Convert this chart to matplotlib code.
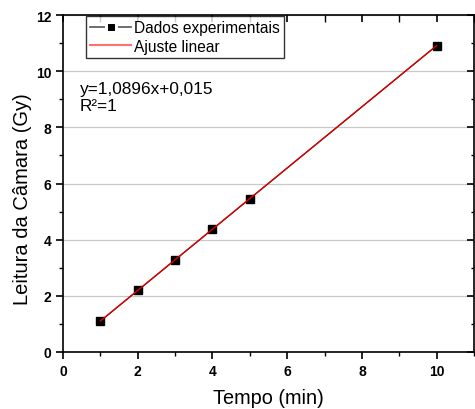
import matplotlib
matplotlib.use("Agg")
import matplotlib.pyplot as plt
from matplotlib.lines import Line2D
from matplotlib.ticker import MultipleLocator

plt.rcParams['font.family'] = ['Liberation Sans', 'DejaVu Sans']

tempo = [1, 2, 3, 4, 5, 10]
leitura = [1.10, 2.19, 3.28, 4.37, 5.46, 10.91]
slope = 1.0896
intercept = 0.015
fit_x = [1, 10]

fig = plt.figure(figsize=(4.75, 4.10), dpi=100)
ax = fig.add_axes([63/475, 1-353/410, 1-63/475 - 1/475, (353-16)/410])

ax.plot(tempo, leitura, color='black', lw=0.8, marker='s', ms=5.5,
        markerfacecolor='black', markeredgecolor='black', zorder=3)
fy = [slope*x + intercept for x in fit_x]
ax.plot(fit_x, fy, color='#dd0000', lw=1.0, zorder=4)

ax.set_xlim(0, 11)
ax.set_ylim(0, 12)
ax.xaxis.set_major_locator(MultipleLocator(2))
ax.xaxis.set_minor_locator(MultipleLocator(1))
ax.yaxis.set_major_locator(MultipleLocator(2))
ax.yaxis.set_minor_locator(MultipleLocator(1))
ax.grid(axis='y', which='major', color='#c8c8c8', lw=0.9)
ax.set_axisbelow(True)

for s in ax.spines.values():
    s.set_linewidth(1.2)

ax.tick_params(axis='both', which='major', direction='out', length=5, width=1.2,
               labelsize=10, top=False, right=False)
ax.tick_params(axis='both', which='minor', direction='out', length=3, width=1.0,
               top=False, right=False)
for lab in ax.get_xticklabels() + ax.get_yticklabels():
    lab.set_fontweight('bold')

# inward ticks on top and right
axt = ax.twiny()
axt.set_xlim(0, 11)
axt.xaxis.set_major_locator(MultipleLocator(2))
axt.xaxis.set_minor_locator(MultipleLocator(1))
axt.tick_params(axis='x', which='major', direction='in', length=5, width=1.2, labeltop=False)
axt.tick_params(axis='x', which='minor', direction='in', length=5, width=1.0)
axr = ax.twinx()
axr.set_ylim(0, 12)
axr.yaxis.set_major_locator(MultipleLocator(2))
axr.yaxis.set_minor_locator(MultipleLocator(1))
axr.tick_params(axis='y', which='major', direction='in', length=5, width=1.2, labelright=False)
axr.tick_params(axis='y', which='minor', direction='in', length=2, width=1.0)
for a in (axt, axr):
    for s in a.spines.values():
        s.set_visible(False)

ax.set_xlabel('Tempo (min)', fontsize=14.3, labelpad=7)
ax.set_ylabel('Leitura da Câmara (Gy)', fontsize=14.5, labelpad=2.5, y=0.458)

handles = [
    Line2D([], [], color='#555555', lw=1.2, marker='s', ms=7.4,
           markerfacecolor='black', markeredgecolor='white', markeredgewidth=2.2),
    Line2D([], [], color='#ff7070', lw=1.5),
]
leg = axt.legend(handles, ['Dados experimentais', 'Ajuste linear'],
                 loc='upper left', bbox_to_anchor=(22/411, 1.0), fontsize=11.2,
                 frameon=True, fancybox=False, edgecolor='black', borderpad=0.3,
                 handlelength=2.6, handletextpad=0.2, labelspacing=0.2,
                 borderaxespad=0.05)
leg.get_frame().set_linewidth(1.0)
leg.set_zorder(10)

ax.text(17/411, 1-(82-16)/337, 'y=1,0896x+0,015\nR²=1', transform=ax.transAxes,
        fontsize=12.4, va='top', ha='left', linespacing=1.2, zorder=10)

fig.savefig('out.png', dpi=100)
